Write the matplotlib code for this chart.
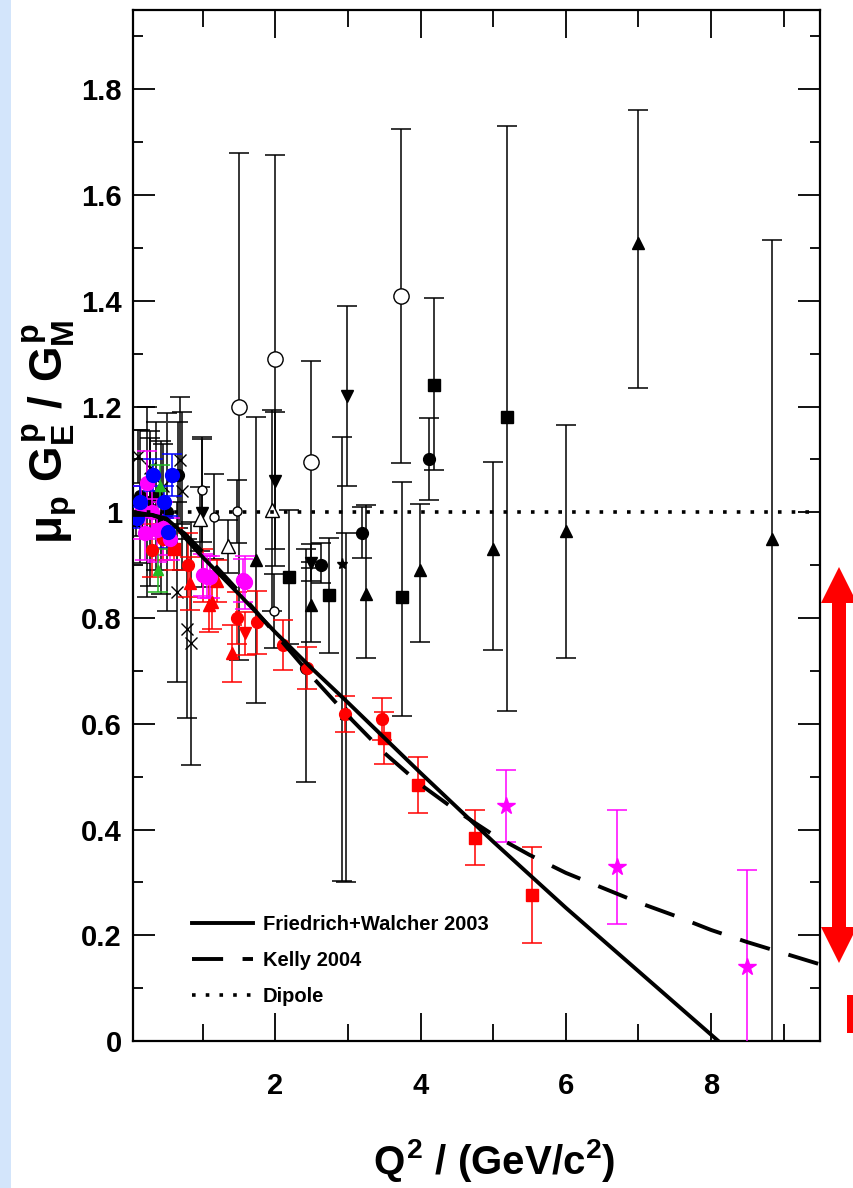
import numpy as np
import matplotlib
matplotlib.use("Agg")
import matplotlib.pyplot as plt
from matplotlib.patches import Rectangle, Polygon
from matplotlib.ticker import MultipleLocator, FuncFormatter

plt.rcParams['font.family'] = ['Liberation Sans', 'DejaVu Sans']
plt.rcParams['font.weight'] = 'bold'
plt.rcParams['mathtext.fontset'] = 'custom'
plt.rcParams['mathtext.rm'] = 'Liberation Sans:bold'
plt.rcParams['mathtext.it'] = 'Liberation Sans:bold'
plt.rcParams['mathtext.bf'] = 'Liberation Sans:bold'

# ---- model curves ----
fw_x = [0.05, 0.3, 0.5, 0.65, 0.8, 1.0, 1.5, 2.0, 2.5, 3.0, 4.0, 5.0, 6.0, 7.0, 8.1]
fw_y = [0.995, 0.995, 0.988, 0.97, 0.945, 0.915, 0.845, 0.773, 0.705, 0.64, 0.507, 0.377, 0.252, 0.132, 0.0]
kelly_x = [0.05, 0.3, 0.5, 0.75, 1.0, 1.5, 2.0, 2.5, 3.0, 3.5, 4.0, 4.5, 5.0, 5.5, 6.0, 6.5, 7.0, 7.5, 8.0,
           8.5, 9.0, 9.5]
kelly_y = [1.0, 0.995, 0.985, 0.96, 0.925, 0.85, 0.77, 0.69, 0.615, 0.545, 0.485, 0.435, 0.39, 0.352, 0.318,
           0.29, 0.262, 0.237, 0.21, 0.187, 0.166, 0.145]
dipole_y = 1.0

# ---- black data (Rosenbluth) ----
bk_circ_x = [0.14, 0.23, 0.28, 0.35, 0.43, 0.51, 0.66, 2.42, 2.63, 3.2, 4.11]
bk_circ_y = [1.03, 1.02, 1.0, 1.03, 0.99, 1.0, 1.07, 0.705, 0.90, 0.96, 1.10]
bk_circ_lo = [0.125, 0.18, 0.14, 0.14, 0.145, 0.187, 0.1, 0.215, 0.034, 0.047, 0.077]
bk_circ_hi = [0.125, 0.18, 0.14, 0.14, 0.145, 0.187, 0.1, 0.225, 0.041, 0.05, 0.078]

bk_sq_x = [0.08, 2.19, 2.74, 3.75, 4.19, 5.19]
bk_sq_y = [0.985, 0.877, 0.843, 0.84, 1.24, 1.18]
bk_sq_lo = [0.03, 0.127, 0.11, 0.225, 0.16, 0.555]
bk_sq_hi = [0.03, 0.127, 0.108, 0.217, 0.165, 0.55]

bk_tri_x = [1.74, 2.49, 2.97, 3.25, 3.99, 5.0, 6.0, 7.0, 8.84]
bk_tri_y = [0.91, 0.824, 0.62, 0.845, 0.89, 0.93, 0.965, 1.51, 0.95]
bk_tri_lo = [0.27, 0.07, 0.32, 0.12, 0.135, 0.19, 0.24, 0.275, 1.0]
bk_tri_hi = [0.27, 0.07, 0.34, 0.168, 0.125, 0.165, 0.2, 0.25, 0.565]

bk_tdn_x = [0.99, 2.0, 2.49, 2.99]
bk_tdn_y = [0.998, 1.06, 0.905, 1.22]
bk_tdn_lo = [0.14, 0.13, 0.035, 0.17]
bk_tdn_hi = [0.14, 0.13, 0.035, 0.17]

bk_x_x = [0.11, 0.28, 0.45, 0.65, 0.69, 0.71, 0.78, 0.84]
bk_x_y = [1.106, 1.083, 1.05, 0.849, 1.098, 1.04, 0.78, 0.752]
bk_x_err = [0.05, 0.07, 0.08, 0.17, 0.12, 0.15, 0.17, 0.23]

bk_ocirc_x = [1.5, 2.0, 2.49, 3.73]
bk_ocirc_y = [1.20, 1.289, 1.096, 1.41]
bk_ocirc_lo = [0.48, 0.39, 0.19, 0.317]
bk_ocirc_hi = [0.48, 0.387, 0.19, 0.315]

bk_small_ocirc_x = [0.99, 1.16, 1.47, 1.98]
bk_small_ocirc_y = [1.043, 0.992, 1.002, 0.813]
bk_small_ocirc_err = [0.1, 0.08, 0.06, 0.07]

bk_otri_x = [0.96, 1.35, 1.96]
bk_otri_y = [0.987, 0.936, 1.004]
bk_otri_err = [0.06, 0.05, 0.19]

bk_star_x = [2.92]
bk_star_y = [0.903]
bk_star_lo = [0.6]
bk_star_hi = [0.24]

# ---- red data (polarization transfer) ----
rd_circ_x = [0.3, 0.45, 0.8, 1.0, 1.47, 1.75, 2.11, 2.44, 2.96, 3.47]
rd_circ_y = [0.928, 0.95, 0.90, 0.88, 0.80, 0.792, 0.749, 0.705, 0.618, 0.609]
rd_circ_err = [0.05, 0.04, 0.06, 0.05, 0.05, 0.06, 0.048, 0.04, 0.034, 0.04]

rd_sq_x = [0.6, 3.49, 3.97, 4.75, 5.54]
rd_sq_y = [0.93, 0.573, 0.484, 0.384, 0.276]
rd_sq_err = [0.04, 0.05, 0.053, 0.052, 0.091]

rd_tri_x = [0.83, 1.08, 1.13, 1.2, 1.40]
rd_tri_y = [0.866, 0.824, 0.83, 0.87, 0.733]
rd_tri_err = [0.05, 0.05, 0.05, 0.04, 0.054]

rd_tdn_x = [1.58]
rd_tdn_y = [0.771]
rd_tdn_err = [0.04]

# ---- magenta data ----
mg_circ_x = [0.15, 0.2, 0.23, 0.3, 0.37, 0.45, 0.55, 1.0, 1.06, 1.1, 1.56, 1.58]
mg_circ_y = [1.0, 0.96, 1.055, 1.0, 0.966, 0.97, 0.95, 0.881, 0.877, 0.877, 0.871, 0.868]
mg_circ_err = [0.05, 0.05, 0.06, 0.05, 0.06, 0.05, 0.04, 0.04, 0.04, 0.04, 0.04, 0.05]

mg_star_x = [5.18, 6.70, 8.5]
mg_star_y = [0.444, 0.329, 0.14]
mg_star_lo = [0.068, 0.108, 0.3]
mg_star_hi = [0.068, 0.108, 0.183]

# ---- blue / green data ----
bl_x = [0.1, 0.14, 0.32, 0.46, 0.52, 0.58]
bl_y = [0.99, 1.02, 1.07, 1.02, 0.963, 1.07]
bl_err = [0.02, 0.03, 0.03, 0.03, 0.03, 0.04]

gr_x = [0.38, 0.41]
gr_y = [0.89, 1.05]
gr_err = [0.04, 0.04]

fig = plt.figure(figsize=(8.54, 11.88), dpi=100)
fig.patches.append(Rectangle((0, 0), 11 / 854, 1, transform=fig.transFigure,
                             facecolor='#d3e5fb', edgecolor='none', zorder=0))
ax = fig.add_axes([133 / 854, 1 - 1041 / 1188, 687 / 854, 1031 / 1188])


def bars(x, y, lo, hi, marker, color, ms=8.5, mfc=None, lw=1.1, cs=7, z=3):
    ax.errorbar(x, y, yerr=[lo, hi], fmt=marker, color=color, ecolor=color,
                ms=ms, mfc=color if mfc is None else mfc, mec=color,
                elinewidth=lw, capsize=cs, capthick=lw, zorder=z)


blk = 'black'
bars(bk_circ_x, bk_circ_y, bk_circ_lo, bk_circ_hi, 'o', blk)
bars(bk_sq_x, bk_sq_y, bk_sq_lo, bk_sq_hi, 's', blk)
bars(bk_tri_x, bk_tri_y, bk_tri_lo, bk_tri_hi, '^', blk)
bars(bk_tdn_x, bk_tdn_y, bk_tdn_lo, bk_tdn_hi, 'v', blk)
bars(bk_x_x, bk_x_y, bk_x_err, bk_x_err, 'x', blk, ms=9)
bars(bk_ocirc_x, bk_ocirc_y, bk_ocirc_lo, bk_ocirc_hi, 'o', blk, ms=11, mfc='white')
bars(bk_small_ocirc_x, bk_small_ocirc_y, bk_small_ocirc_err, bk_small_ocirc_err, 'o', blk, ms=6.5, mfc='white')
bars(bk_otri_x, bk_otri_y, bk_otri_err, bk_otri_err, '^', blk, ms=10, mfc='white')
bars(bk_star_x, bk_star_y, bk_star_lo, bk_star_hi, '*', blk, ms=8)

red = '#ff0000'
bars(rd_circ_x, rd_circ_y, rd_circ_err, rd_circ_err, 'o', red, z=4)
bars(rd_sq_x, rd_sq_y, rd_sq_err, rd_sq_err, 's', red, z=4)
bars(rd_tri_x, rd_tri_y, rd_tri_err, rd_tri_err, '^', red, z=4)
bars(rd_tdn_x, rd_tdn_y, rd_tdn_err, rd_tdn_err, 'v', red, z=4)

mag = '#ff00ff'
bars(mg_circ_x, mg_circ_y, mg_circ_err, mg_circ_err, 'o', mag, ms=10, z=4)
bars(mg_star_x, mg_star_y, mg_star_lo, mg_star_hi, '*', mag, ms=13, z=4)
bars(bl_x, bl_y, bl_err, bl_err, 'o', '#0000ff', ms=10, z=4)
bars(gr_x, gr_y, gr_err, gr_err, '^', '#22bb22', ms=7, z=4)

ax.plot(fw_x, fw_y, color='black', lw=2.8, zorder=6, label='Friedrich+Walcher 2003')
ax.plot(kelly_x, kelly_y, color='black', lw=2.8, dashes=(8, 5), zorder=6, label='Kelly 2004')
ax.axhline(dipole_y, color='black', lw=2.6, linestyle=(0, (1, 2.8)), zorder=6, label='Dipole')

ax.set_xlim(0.04, 9.5)
ax.set_ylim(0, 1.95)
ax.xaxis.set_major_locator(MultipleLocator(2))
ax.xaxis.set_minor_locator(MultipleLocator(1))
ax.yaxis.set_major_locator(MultipleLocator(0.2))
ax.yaxis.set_minor_locator(MultipleLocator(0.1))
ax.yaxis.set_major_formatter(FuncFormatter(lambda v, p: '%g' % round(v, 2)))
ax.tick_params(which='both', direction='in', top=True, right=True, width=1.3, labelsize=21)
ax.tick_params(axis='x', which='major', length=20, pad=22)
ax.tick_params(axis='x', which='minor', length=12)
ax.tick_params(axis='y', which='major', length=16, pad=8)
ax.tick_params(axis='y', which='minor', length=7.5)
for s in ax.spines.values():
    s.set_linewidth(1.6)

leg = ax.legend(loc='upper left', bbox_to_anchor=(0.06, 0.14), frameon=False, fontsize=14.5,
                handlelength=3.0, labelspacing=0.85, handletextpad=0.5)

fig.text(494 / 854, 1 - 1160 / 1188, r'$Q^{2}$ / (GeV/c$^{2}$)', fontsize=29, ha='center', va='center')
fig.text(50 / 854, 1 - 432 / 1188, r'$\mu_{p}\ G_{E}^{p}\ /\ G_{M}^{p}$', fontsize=33,
         rotation=90, ha='center', va='center')

# red double arrow and bar at the right edge (annotation)
arr_cx, arr_top, arr_bot = 839, 567, 963
head_len, head_hw, shaft_hw = 36, 18, 7
pts = [(arr_cx, arr_top), (arr_cx + head_hw, arr_top + head_len), (arr_cx + shaft_hw, arr_top + head_len),
       (arr_cx + shaft_hw, arr_bot - head_len), (arr_cx + head_hw, arr_bot - head_len), (arr_cx, arr_bot),
       (arr_cx - head_hw, arr_bot - head_len), (arr_cx - shaft_hw, arr_bot - head_len),
       (arr_cx - shaft_hw, arr_top + head_len), (arr_cx - head_hw, arr_top + head_len)]
pts = [(px / 854, 1 - py / 1188) for px, py in pts]
fig.patches.append(Polygon(pts, closed=True, transform=fig.transFigure, facecolor='#ff0000', edgecolor='none'))
fig.patches.append(Rectangle((847 / 854, 1 - 1033 / 1188), 7 / 854, 38 / 1188, transform=fig.transFigure,
                             facecolor='#ff0000', edgecolor='none'))

fig.savefig('out.png', dpi=100)
